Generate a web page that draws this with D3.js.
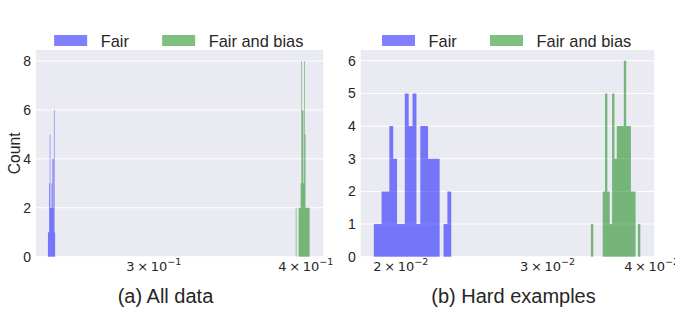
<!DOCTYPE html>
<html>
<head>
<meta charset="utf-8">
<script src="https://cdn.jsdelivr.net/npm/d3@7"></script>
<style>
  body { margin: 0; background: #fff; }
  svg { font-family: "Liberation Sans", Arial, sans-serif; }
</style>
</head>
<body>
<svg width="675" height="309"></svg>
<script>
var seriesNames = ['Fair', 'Fair and bias'];
var seriesColors = ['rgba(0,0,255,0.5)', 'rgba(0,128,0,0.5)'];
var captions = ['(a) All data', '(b) Hard examples'];

// (a) all data: bin edges and counts
var allFairEdges = [0.24556, 0.24584, 0.24612, 0.24640, 0.24668, 0.24696, 0.24724,
                    0.24752, 0.24780, 0.24808, 0.24836, 0.24864, 0.24892];
var allFairCounts = [1, 1, 3, 5, 2, 2, 3, 4, 2, 4, 6, 1];
var allBiasEdges = [0.39250, 0.39302, 0.39354, 0.39406, 0.39458, 0.39510, 0.39562,
                    0.39614, 0.39666, 0.39718, 0.39770, 0.39822, 0.39874, 0.39926,
                    0.39978, 0.40030, 0.40082, 0.40134, 0.40186, 0.40238, 0.40290];
var allBiasCounts = [2, 0, 0, 0, 2, 2, 2, 3, 8, 6, 6, 3, 8, 5, 2, 2, 2, 2, 2, 2];
var allXTicks = [0.3, 0.4];
var allYTicks = [0, 2, 4, 6, 8];

// (b) hard examples
var hardFairEdges = [0.018568, 0.018768, 0.018969, 0.019173, 0.019379, 0.019588, 0.019798,
                     0.020011, 0.020226, 0.020444, 0.020663, 0.020886, 0.021110, 0.021337,
                     0.021566, 0.021798, 0.022032, 0.022269, 0.022509, 0.022751, 0.022995];
var hardFairCounts = [1, 1, 2, 2, 4, 3, 1, 1, 5, 4, 5, 1, 4, 4, 3, 3, 3, 0, 1, 2];
var hardBiasEdges = [0.033818, 0.034038, 0.034260, 0.034484, 0.034708, 0.034934, 0.035162,
                     0.035391, 0.035622, 0.035854, 0.036088, 0.036323, 0.036560, 0.036798,
                     0.037038, 0.037279, 0.037522, 0.037767, 0.038013, 0.038260, 0.038510,
                     0.038761];
var hardBiasCounts = [1, 0, 0, 0, 0, 2, 5, 2, 1, 5, 3, 4, 4, 4, 6, 4, 4, 2, 2, 0, 1];
var hardXTicks = [0.02, 0.03, 0.04];
var hardYTicks = [0, 1, 2, 3, 4, 5, 6];

var svg = d3.select('svg');
var ink = '#262626';

var toBins = function(edges, counts) {
  return counts.map(function(c, i) { return { x0: edges[i], x1: edges[i + 1], n: c }; });
};

var drawPanel = function(p) {
  var x = d3.scaleLog().domain(p.xDomain).range([p.left, p.right]);
  var y = d3.scaleLinear().domain(p.yDomain).range([p.bottom, p.top]);
  var g = svg.append('g');

  g.append('rect')
    .attr('x', p.left).attr('y', p.top)
    .attr('width', p.right - p.left).attr('height', p.bottom - p.top)
    .attr('fill', '#eaeaf2');

  g.selectAll('line.grid')
    .data(p.yTicks)
    .enter().append('line')
      .attr('class', 'grid')
      .attr('x1', p.left).attr('x2', p.right)
      .attr('y1', function(d) { return y(d); })
      .attr('y2', function(d) { return y(d); })
      .attr('stroke', '#fff').attr('stroke-width', 1);

  // one path per series so neighbouring bars join without seams
  p.series.forEach(function(s, k) {
    g.append('path')
      .datum(s.filter(function(b) { return b.n > 0; }))
      .attr('fill', seriesColors[k])
      .attr('d', function(bins) {
        var path = d3.path();
        bins.forEach(function(b) {
          path.rect(x(b.x0), y(b.n), x(b.x1) - x(b.x0), y(0) - y(b.n));
        });
        return path.toString();
      });
  });

  var yAxis = g.append('g')
    .attr('transform', 'translate(' + p.left + ',0)')
    .call(d3.axisLeft(y).tickValues(p.yTicks).tickSize(0).tickPadding(5).tickFormat(d3.format('d')));
  yAxis.select('.domain').remove();
  yAxis.selectAll('text').attr('font-size', 14).attr('fill', ink)
    .attr('font-family', '"Liberation Sans", Arial, sans-serif');

  var xl = g.selectAll('text.xt')
    .data(p.xTicks)
    .enter().append('text')
      .attr('class', 'xt')
      .attr('x', function(d) { return x(d); })
      .attr('y', 270.5)
      .attr('text-anchor', 'middle')
      .attr('font-family', '"DejaVu Sans", sans-serif')
      .attr('font-size', 13)
      .attr('fill', ink);
  xl.append('tspan').text(function(d) {
    var e = Math.floor(Math.log10(d) + 1e-9);
    return Math.round(d / Math.pow(10, e)) + '\u2009\u00d7\u200910';
  });
  xl.append('tspan')
    .attr('dy', -5.5).attr('font-size', 9.5)
    .text(function(d) { return '\u2212' + (-Math.floor(Math.log10(d) + 1e-9)); });

  if (p.yLabel) {
    g.append('text')
      .attr('transform', 'translate(' + 19.5 + ',' + (p.top + p.bottom) / 2 + ') rotate(-90)')
      .attr('text-anchor', 'middle')
      .attr('font-size', 15.7).attr('fill', ink)
      .text(p.yLabel);
  }

  // legend above the axes
  var cx = (p.left + p.right) / 2;
  var lg = g.append('g').attr('transform', 'translate(' + (cx - 125.5) + ',35)');
  var offs = [0, 108];
  seriesNames.forEach(function(name, k) {
    lg.append('rect').attr('x', offs[k]).attr('y', 0).attr('width', 33).attr('height', 11)
      .attr('fill', seriesColors[k]);
    lg.append('text').attr('x', offs[k] + 46.5).attr('y', 11.5)
      .attr('font-size', 16.4).attr('fill', ink).text(name);
  });

  g.append('text')
    .attr('x', p.captionX).attr('y', 303)
    .attr('text-anchor', 'middle')
    .attr('font-size', 20).attr('fill', ink)
    .text(p.caption);
};

drawPanel({
  left: 36, right: 323.3, top: 50, bottom: 256.7,
  xDomain: [0.24007, 0.41348], yDomain: [0, 8.45],
  xTicks: allXTicks, yTicks: allYTicks, yLabel: 'Count',
  series: [toBins(allFairEdges, allFairCounts), toBins(allBiasEdges, allBiasCounts)],
  caption: captions[0], captionX: 165.5
});

drawPanel({
  left: 360.7, right: 654.3, top: 50, bottom: 256.7,
  xDomain: [0.017906, 0.040288], yDomain: [0, 6.33],
  xTicks: hardXTicks, yTicks: hardYTicks, yLabel: null,
  series: [toBins(hardFairEdges, hardFairCounts), toBins(hardBiasEdges, hardBiasCounts)],
  caption: captions[1], captionX: 513.5
});
</script>
</body>
</html>
